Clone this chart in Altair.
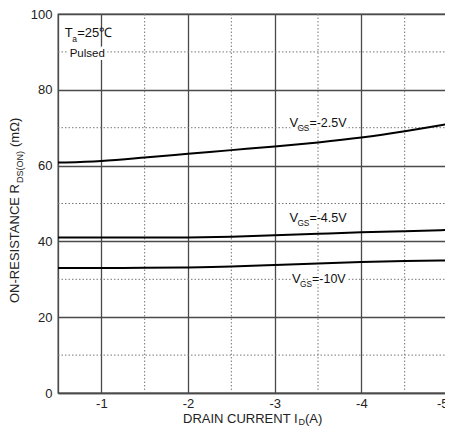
import altair as alt
import pandas as pd

# ---- data ----
current = [-0.5, -1.0, -1.5, -2.0, -2.5, -3.0, -3.5, -4.0, -4.5, -5.0]
r_vgs_2_5 = [60.8, 61.1, 62.2, 63.1, 64.1, 65.0, 66.1, 67.3, 69.0, 71.0]
r_vgs_4_5 = [41.0, 41.0, 41.0, 41.0, 41.2, 41.6, 42.0, 42.4, 42.7, 43.0]
r_vgs_10 = [33.0, 33.0, 33.0, 33.1, 33.3, 33.8, 34.2, 34.6, 34.8, 35.0]
series_names = ["-2.5V", "-4.5V", "-10V"]

x_major = [-1, -2, -3, -4, -5]
x_minor = [-1.5, -2.5, -3.5, -4.5]
y_major = [0, 20, 40, 60, 80, 100]
y_minor = [10, 30, 50, 70, 90]

label_x = [-3.17, -3.17, -3.20]
label_y = [71.2, 46.3, 30.2]
label_rest = ["=-2.5V", "=-4.5V", "=-10V"]

note_x = [-0.577, -0.635]
note_y = [95.0, 89.4]

FONT = "Liberation Sans"

rows = []
for name, vals in zip(series_names, [r_vgs_2_5, r_vgs_4_5, r_vgs_10]):
    for c, v in zip(current, vals):
        rows.append({"x": c, "y": v, "s": name})
curves = pd.DataFrame(rows)
labels = pd.DataFrame({"x": label_x, "y": label_y, "rest": label_rest})
labels["v"] = "V"
labels["gs"] = "GS"
minor_x = pd.DataFrame({"x": x_minor})
minor_y = pd.DataFrame({"y": y_minor})

xscale = alt.Scale(domain=[-5, -0.5], reverse=True, nice=False, zero=False)
yscale = alt.Scale(domain=[0, 100], nice=False)

xaxis = alt.Axis(values=x_major, title=None, ticks=False, labelPadding=4,
                 labelExpr="datum.value < 0 ? '-' + abs(datum.value) : '' + datum.value",
                 gridColor="#4a4a4a", gridWidth=1.3, domainColor="#4a4a4a", domainWidth=1.3)
yaxis = alt.Axis(values=y_major, title=None, ticks=False, labelPadding=6,
                 gridColor="#4a4a4a", gridWidth=1.3, domainColor="#4a4a4a", domainWidth=1.3)

base_lines = alt.Chart(curves).mark_line(color="black", strokeWidth=2, interpolate="basis").encode(
    x=alt.X("x:Q", scale=xscale, axis=xaxis),
    y=alt.Y("y:Q", scale=yscale, axis=yaxis),
    detail="s:N",
)

dot = dict(color="#777777", strokeWidth=1, strokeDash=[1.5, 2])
vminor = alt.Chart(minor_x).mark_rule(**dot).encode(x=alt.X("x:Q", scale=xscale))
hminor = alt.Chart(minor_y).mark_rule(**dot).encode(y=alt.Y("y:Q", scale=yscale))


def txt(df, field, size, dx, dy, halo=False):
    kw = dict(font=FONT, fontSize=size, align="left", baseline="middle", dx=dx, dy=dy)
    if halo:
        kw.update(stroke="white", strokeWidth=6, strokeJoin="round", color="white")
    else:
        kw.update(color="#111111")
    return alt.Chart(df).mark_text(**kw).encode(
        x=alt.X("x:Q", scale=xscale), y=alt.Y("y:Q", scale=yscale), text=field
    )


halo_parts = [
    txt(labels, "v:N", 13, 0, 0, True),
    txt(labels, "rest:N", 12.5, 20, 0, True),
]
text_parts = [
    txt(labels, "v:N", 13, 0, 0),
    txt(labels, "gs:N", 8.3, 8, 6),
    txt(labels, "rest:N", 12.5, 20, 0),
]

notes = pd.DataFrame({"x": note_x, "y": note_y})
ta = notes.iloc[[0]].assign(t="T", a="a", r="=25℃")
pulsed = notes.iloc[[1]].assign(t="Pulsed")

note_halo = [txt(pulsed, "t:N", 11.5, 0, 0, True)]
note_layers = [
    txt(ta, "t:N", 13, 0, 0),
    txt(ta, "a:N", 8.5, 7.5, 6),
    txt(ta, "r:N", 13, 12.5, 0),
    txt(pulsed, "t:N", 11.5, 0, 0),
]

# axis titles with subscripts
one = pd.DataFrame({"k": [0]})


def title_piece(text, x, y, size, angle=0):
    return alt.Chart(one).mark_text(
        text=text, font=FONT, fontSize=size, align="left", baseline="middle",
        color="#222222", angle=angle,
    ).encode(x=alt.value(x), y=alt.value(y))


titles = [
    title_piece("DRAIN CURRENT I", 125, 404.5, 13),
    title_piece("D", 240.5, 408, 9),
    title_piece("(A)", 247, 404.5, 13),
    title_piece("ON-RESISTANCE R", -43.5, 289, 13, 270),
    title_piece("DS(ON)", -38.5, 169, 9, 270),
    title_piece("(mΩ)", -43.5, 133, 13, 270),
]

chart = alt.layer(
    vminor, hminor, *halo_parts, *note_halo, base_lines, *text_parts, *note_layers, *titles
).properties(
    width=390, height=379,
    autosize=alt.AutoSizeParams(type="none"),
    padding={"left": 50, "top": 6, "right": -3, "bottom": 33},
).configure_view(
    stroke="#4a4a4a", strokeWidth=1.3
).configure_axis(
    labelFont=FONT, labelFontSize=13, labelColor="#222222",
)

chart.save("out.html", embed_options={"renderer": "svg", "actions": False})
